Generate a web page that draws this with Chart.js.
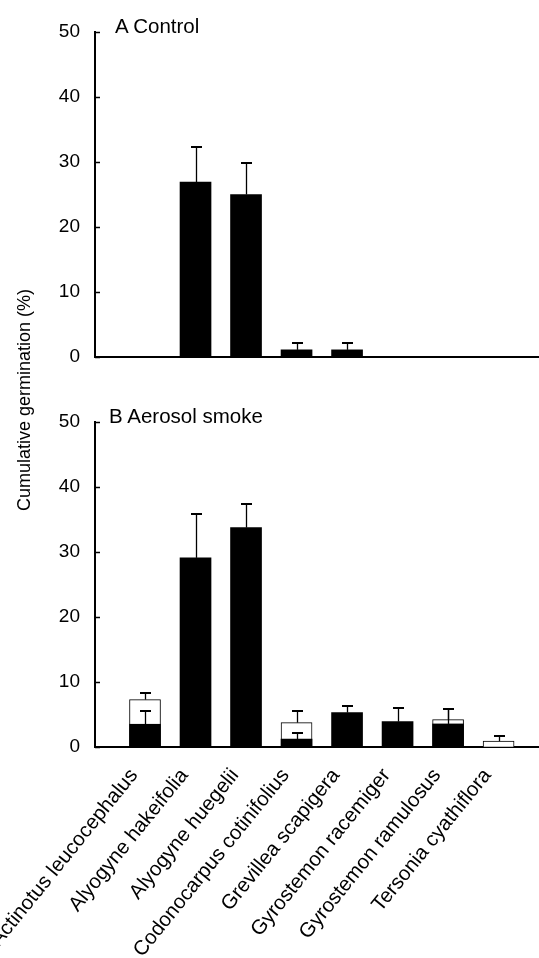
<!DOCTYPE html>
<html><head><meta charset="utf-8">
<script src="https://cdn.jsdelivr.net/npm/chart.js@4"></script>
<style>
html,body{margin:0;padding:0;background:#fff;}
body{width:539px;height:958px;position:relative;overflow:hidden;font-family:"Liberation Sans",Arial,sans-serif;}
.wrap{position:absolute;left:0;width:539px;}
.lbl{position:absolute;font-size:20.5px;line-height:20px;color:#000;white-space:nowrap;}
</style></head><body>
<div class="wrap" style="top:0;height:380px"><canvas id="cA"></canvas></div>
<div class="wrap" style="top:380px;height:578px"><canvas id="cB"></canvas></div>
<div class="lbl" style="left:115px;top:16px">A Control</div>
<div class="lbl" style="left:109px;top:406px">B Aerosol smoke</div>
<div class="lbl" style="left:-126px;top:391px;width:300px;text-align:center;font-size:18px;line-height:18px;transform:rotate(-90deg);">Cumulative germination (%)</div>
<script>
const categories = ['Actinotus leucocephalus','Alyogyne hakeifolia','Alyogyne huegelii','Codonocarpus cotinifolius','Grevillea scapigera','Gyrostemon racemiger','Gyrostemon ramulosus','Tersonia cyathiflora'];
const yTicks = [0,10,20,30,40,50];
// A Control
const controlGerminated = [0, 26.9, 25.0, 1.1, 1.1, 0, 0, 0];
const controlError      = [0, 5.4, 4.8, 1.0, 1.0, 0, 0, 0];
// B Aerosol smoke
const smokeGerminated   = [3.5, 29.1, 33.75, 1.2, 5.3, 3.9, 3.55, 0];
const smokeError        = [2.0, 6.7, 3.65, 0.95, 0.95, 2.1, 2.25, 0];
const smokeTotal        = [7.3, 0, 0, 3.75, 0, 0, 4.2, 0.9];
const smokeTotalError   = [1.0, 0, 0, 1.75, 0, 0, 1.6, 0.75];

const FONT = "'Liberation Sans', Arial, sans-serif";
const pts = arr => arr.map((v,i)=>({x:i,y:v}));

const errorBars = {
  id:'errorBars',
  afterDatasetsDraw(chart, args, opts){
    const {ctx, scales:{x,y}} = chart;
    ctx.save(); ctx.strokeStyle='#000';
    (opts.sets||[]).forEach(s=>{
      s.values.forEach((v,i)=>{
        const e = s.errors[i]; if(!e) return;
        const px = Math.round(x.getPixelForValue(i))+0.5;
        const y0 = y.getPixelForValue(v), y1 = Math.round(y.getPixelForValue(v+e));
        ctx.lineWidth=1.3;
        ctx.beginPath(); ctx.moveTo(px,y0); ctx.lineTo(px,y1); ctx.stroke();
        ctx.lineWidth=2;
        ctx.beginPath(); ctx.moveTo(px-5.5,y1); ctx.lineTo(px+5.5,y1); ctx.stroke();
      });
    });
    ctx.restore();
  }
};
const innerTicks = {
  id:'innerTicks',
  afterDraw(chart){
    const {ctx, chartArea, scales:{y}} = chart;
    ctx.save(); ctx.strokeStyle='#000'; ctx.lineWidth=1.5;
    y.ticks.forEach(t=>{
      const py = Math.round(y.getPixelForValue(t.value))+0.5;
      ctx.beginPath(); ctx.moveTo(chartArea.left, py); ctx.lineTo(chartArea.left+5, py); ctx.stroke();
    });
    ctx.restore();
  }
};

function makeOptions(padTop, xHeight, showLabels, errSets){
  return {
    responsive:true, maintainAspectRatio:false, animation:false,
    layout:{padding:{top:padTop,left:0,right:0,bottom:0}},
    plugins:{legend:{display:false}, tooltip:{enabled:false}, errorBars:{sets:errSets}},
    scales:{
      x:{type:'linear', offset:false, min:-0.99, max:7.8, grid:{display:false, drawTicks:false}, border:{display:true,color:'#000',width:2},
         ticks:{display:showLabels, stepSize:1, includeBounds:false, autoSkip:false, minRotation:51, maxRotation:51,
                padding:17, labelOffset:-11, color:'#000', font:{family:FONT,size:20.5},
                callback:(v)=>Number.isInteger(v)&&categories[v]!==undefined?categories[v]:''},
         afterFit(s){s.height=xHeight; s.paddingLeft=0; s.paddingRight=0; s.paddingTop=0; s.paddingBottom=0;}},
      y:{min:0,max:50, grid:{display:false, drawTicks:false}, border:{display:true,color:'#000',width:2},
         afterBuildTicks(s){s.ticks=yTicks.map(v=>({value:v}));},
         ticks:{padding:15,color:'#000',font:{family:FONT,size:19}},
         afterFit(s){s.width=95; s.paddingTop=0; s.paddingBottom=0;}}
    }
  };
}

new Chart(document.getElementById('cA'), {
  type:'bar',
  data:{datasets:[
    {label:'Germinated', data:pts(controlGerminated), backgroundColor:'#000', borderWidth:0, barThickness:31, grouped:false, order:0}
  ]},
  options: makeOptions(32, 23, false, [{values:controlGerminated, errors:controlError}]),
  plugins:[errorBars, innerTicks]
});

new Chart(document.getElementById('cB'), {
  type:'bar',
  data:{datasets:[
    {label:'Germinated', data:pts(smokeGerminated), backgroundColor:'#000', borderWidth:0, barThickness:31, grouped:false, order:0},
    {label:'Total', data:pts(smokeTotal), backgroundColor:'#fff', borderColor:'#000', borderWidth:1, barThickness:31, grouped:false, order:1}
  ]},
  options: makeOptions(42, 211, true, [{values:smokeTotal, errors:smokeTotalError},{values:smokeGerminated, errors:smokeError}]),
  plugins:[errorBars, innerTicks]
});
</script>
</body></html>
